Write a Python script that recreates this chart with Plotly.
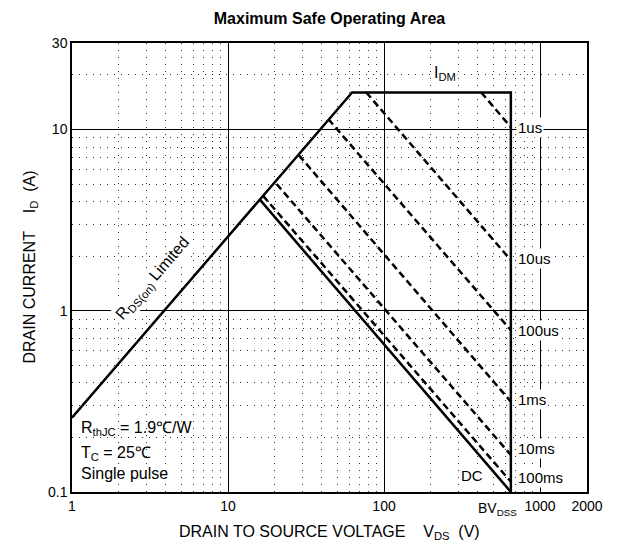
import math
import plotly.graph_objects as go

# ---------------- data ----------------
x_tick_vals = [1, 10, 100, 1000, 2000]
x_tick_text = ["1", "10", "100", "1000", "2000"]
y_tick_vals = [0.1, 1, 10, 30]
y_tick_text = ["0.1", "1", "10", "30"]
x_minor_vals = [2, 3, 4, 5, 6, 7, 8, 9,
                20, 30, 40, 50, 60, 70, 80, 90,
                200, 300, 400, 500, 600, 700, 800, 900]
y_minor_vals = [0.2, 0.3, 0.4, 0.5, 0.6, 0.7, 0.8, 0.9,
                2, 3, 4, 5, 6, 7, 8, 9, 20]

bv_dss = 650          # V
i_dm = 16             # A
# SOA outline: RDS(on) limit -> IDM limit -> BVDSS limit
limit_v = [1, 62.4, 650, 650]
limit_i = [0.257, 16, 16, 0.1]
# DC line
dc_v = [16, 650]
dc_i = [4.1, 0.1]
# single pulse lines (start point and current at BVDSS)
pulse_labels = ["1us", "10us", "100us", "1ms", "10ms", "100ms"]
pulse_start_v = [420, 77, 44, 28.5, 20.5, 16.8]
pulse_start_i = [16, 16, 11.4, 7.2, 5.0, 4.3]
pulse_end_i = [10.3, 1.9, 0.78, 0.315, 0.16, 0.114]

FONT = "Arial, Liberation Sans, Helvetica, sans-serif"
OFF = 8  # page body margin
L, R, T, B = 72 - OFF, 31, 43 - OFF, 54
W, H = 618 - OFF, 546 - OFF
PW, PH = W - L - R, H - T - B
PLOT_BOTTOM = 492  # page px


def py_to_paper(py):
    return (PLOT_BOTTOM - py) / PH


fig = go.Figure()

fig.add_trace(go.Scatter(x=limit_v, y=limit_i, mode="lines",
                         line=dict(color="black", width=2.5),
                         showlegend=False, hoverinfo="skip"))
fig.add_trace(go.Scatter(x=dc_v, y=dc_i, mode="lines",
                         line=dict(color="black", width=2.5),
                         showlegend=False, hoverinfo="skip"))
for lab, sv, si, ei in zip(pulse_labels, pulse_start_v, pulse_start_i, pulse_end_i):
    fig.add_trace(go.Scatter(x=[sv, bv_dss], y=[si, ei], mode="lines",
                             line=dict(color="black", width=2.5, dash="7px,4px"),
                             name=lab, showlegend=False, hoverinfo="skip"))

annotations = []
label_yshift = [0, 2, 0, 2, 7, 4]
for lab, ei, ys in zip(pulse_labels, pulse_end_i, label_yshift):
    annotations.append(dict(x=math.log10(bv_dss), y=math.log10(ei), xref="x", yref="y",
                            text=lab, showarrow=False, xanchor="left", yanchor="middle",
                            xshift=5, yshift=ys, bgcolor="white", borderpad=1,
                            font=dict(family=FONT, size=15, color="black")))

annotations.append(dict(x=math.log10(366), y=math.log10(0.124), xref="x", yref="y",
                        text="DC", showarrow=False, bgcolor="white",
                        font=dict(family=FONT, size=15, color="black")))
annotations.append(dict(x=math.log10(246), y=math.log10(20.3), xref="x", yref="y",
                        text="I<sub>DM</sub>", showarrow=False, bgcolor="white",
                        font=dict(family=FONT, size=16, color="black")))
annotations.append(dict(x=0.519, y=0.18, xref="x", yref="y",
                        text="R<sub>DS(on)</sub> Limited", showarrow=False,
                        textangle=-49.3, bgcolor="white",
                        font=dict(family=FONT, size=16, color="black")))
annotations.append(dict(x=math.log10(bv_dss), y=0, xref="x", yref="paper",
                        text="BV<sub>DSS</sub>", showarrow=False,
                        xanchor="center", yanchor="top", xshift=-13, yshift=-6,
                        font=dict(family=FONT, size=14, color="black")))

# info block
info = ["R<sub>thJC</sub> = 1.9\u2103/W", "T<sub>C</sub> = 25\u2103", "Single pulse"]
info_px = [428, 453, 473]
for txt, py in zip(info, info_px):
    annotations.append(dict(x=7 / PW, y=py_to_paper(py), xref="paper", yref="paper",
                            text=txt, showarrow=False, xanchor="left", yanchor="middle",
                            font=dict(family=FONT, size=16, color="black")))

# axis titles
nb = "\u00a0"
annotations.append(dict(x=0.5, y=0, xref="paper", yref="paper",
                        text="DRAIN TO SOURCE VOLTAGE" + nb * 4 + "V<sub>DS</sub>" + nb * 2 + "(V)",
                        showarrow=False, xanchor="center", yanchor="middle", yshift=-40,
                        font=dict(family=FONT, size=16, color="black")))
annotations.append(dict(x=0, y=0.5, xref="paper", yref="paper",
                        text="DRAIN CURRENT" + nb * 4 + "I<sub>D</sub>" + nb * 2 + "(A)",
                        showarrow=False, xanchor="center", yanchor="middle", xshift=-42,
                        textangle=-90,
                        font=dict(family=FONT, size=16, color="black")))

shapes = [dict(type="rect", xref="paper", yref="paper", layer="between",
               x0=0, x1=(193 - 72) / PW, y0=py_to_paper(489), y1=py_to_paper(411),
               fillcolor="white", line=dict(width=0))]

axis_common = dict(type="log", showgrid=True, gridcolor="black", gridwidth=1,
                   showline=True, linecolor="black", linewidth=1.5, mirror=True,
                   ticks="", zeroline=False, tickmode="array",
                   tickfont=dict(family=FONT, size=14, color="black"))

fig.update_layout(
    width=W, height=H,
    margin=dict(l=L, r=R, t=T, b=B, pad=0),
    paper_bgcolor="white", plot_bgcolor="white",
    title=dict(text="<b>Maximum Safe Operating Area</b>", x=0.5, xref="paper",
               y=1 - (18 - OFF) / H, yref="container", yanchor="middle", xanchor="center",
               font=dict(family=FONT, size=16, color="black")),
    xaxis=dict(range=[0, math.log10(2000)], tickvals=x_tick_vals, ticktext=x_tick_text,
               minor=dict(tickmode="array", tickvals=x_minor_vals, showgrid=True,
                          gridcolor="#333333", gridwidth=1, griddash="1px,6px", ticks=""),
               **axis_common),
    yaxis=dict(range=[-1, math.log10(30)], tickvals=y_tick_vals, ticktext=y_tick_text,
               minor=dict(tickmode="array", tickvals=y_minor_vals, showgrid=True,
                          gridcolor="#333333", gridwidth=1, griddash="1px,6px", ticks=""),
               **axis_common),
    annotations=annotations,
    shapes=shapes,
)

fig.write_html("out.html")
